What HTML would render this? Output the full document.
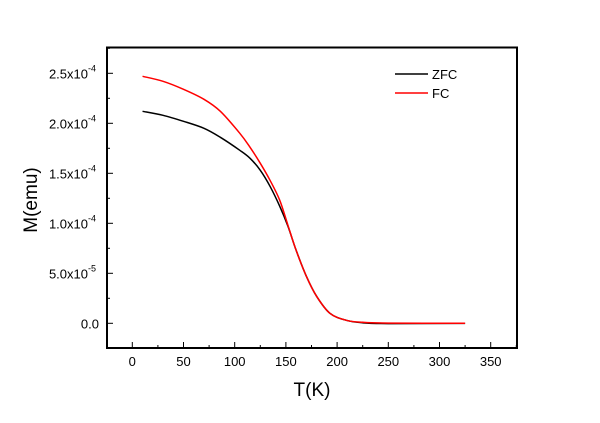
<!DOCTYPE html>
<html><head><meta charset="utf-8"><style>
body{margin:0;background:#fff;width:600px;height:418px;overflow:hidden}
text{font-family:"Liberation Sans",Arial,sans-serif}
</style></head><body>
<svg id="chart" width="600" height="418" viewBox="0 0 600 418" xmlns="http://www.w3.org/2000/svg">
<rect x="107" y="47.5" width="410" height="300.5" fill="none" stroke="#000" stroke-width="2"/>
<g id="ticks"></g>
<g id="series"></g>
<text x="312" y="396" font-size="19" text-anchor="middle">T(K)</text>
<text transform="translate(37,200) rotate(-90)" font-size="19" text-anchor="middle">M(emu)</text>
<g>
<line x1="395" y1="74" x2="428" y2="74" stroke="#000" stroke-width="1.5"/>
<text x="432" y="79" font-size="13">ZFC</text>
<line x1="395" y1="93" x2="428" y2="93" stroke="#f00" stroke-width="1.5"/>
<text x="432" y="98" font-size="13">FC</text>
</g>
</svg>
<script>
const xTicks=[0,50,100,150,200,250,300,350];
const yTicks=[0,0.5,1.0,1.5,2.0,2.5];
const yTickLabels=["0.0","5.0x10","1.0x10","1.5x10","2.0x10","2.5x10"];
const yTickExp=["","-5","-4","-4","-4","-4"];
const zfcT=[10,30,50,70,86,105,115,125,134.5,144,152,160,170,180,193,209,225,250,325];
const zfcM=[2.12,2.08,2.02,1.95,1.86,1.73,1.65,1.53,1.37,1.17,0.97,0.73,0.47,0.27,0.10,0.03,0.005,-0.003,-0.001];
const fcT=[10,30,50,70,86,105,115,125,134.5,144,152,160,170,180,193,209,225,250,325];
const fcM=[2.47,2.42,2.34,2.24,2.12,1.90,1.76,1.60,1.43,1.23,0.98,0.73,0.47,0.27,0.10,0.03,0.01,0.002,0];
const X=t=>132.3+(t)*(358.4/350);
const Y=m=>323.3-m*100;
const NS="http://www.w3.org/2000/svg";
const tg=document.getElementById('ticks');
function mk(tag,attrs,parent){const e=document.createElementNS(NS,tag);for(const k in attrs)e.setAttribute(k,attrs[k]);parent.appendChild(e);return e;}
xTicks.forEach((t,i)=>{
 const l=mk('line',{x1:X(t),x2:X(t),y1:348,y2:342,stroke:'#000','stroke-width':1},tg);
 
 
 const m=mk('line',{x1:X(t+25),x2:X(t+25),y1:348,y2:345,stroke:'#000','stroke-width':1},tg);
 
 
 const tx=mk('text',{x:X(t),y:366,'font-size':13,'text-anchor':'middle'},tg);
 tx.textContent=t;
 
 
});
yTicks.forEach((v,i)=>{
 const l=mk('line',{x1:107,x2:113,y1:Y(v),y2:Y(v),stroke:'#000','stroke-width':1},tg);
 
 
 const m=mk('line',{x1:107,x2:110,y1:Y(v+0.25),y2:Y(v+0.25),stroke:'#000','stroke-width':1},tg);
 
 
 const tx=mk('text',{x:yTickExp[i]?88:99,y:Y(v)+5,'font-size':13,'text-anchor':'end'},tg);
 tx.textContent=yTickLabels[i];
 
 
 if(yTickExp[i]){
  const s=mk('text',{x:88,y:Y(v)-2,'font-size':9,'text-anchor':'start'},tg);
  s.textContent=yTickExp[i];
  
  
 }
});
const sg=document.getElementById('series');
function line(T,M,color,name){
 let d='M'+X(T[0])+','+Y(M[0]);
 for(let i=0;i<T.length-1;i++){
  const p0=[X(T[Math.max(i-1,0)]),Y(M[Math.max(i-1,0)])],p1=[X(T[i]),Y(M[i])],p2=[X(T[i+1]),Y(M[i+1])],p3=[X(T[Math.min(i+2,T.length-1)]),Y(M[Math.min(i+2,T.length-1)])];
  const c1=[p1[0]+(p2[0]-p0[0])/6,p1[1]+(p2[1]-p0[1])/6],c2=[p2[0]-(p3[0]-p1[0])/6,p2[1]-(p3[1]-p1[1])/6];
  d+=' C'+c1.join(',')+' '+c2.join(',')+' '+p2.join(',');
 }
 const p=mk('path',{d:d,fill:'none',stroke:color,'stroke-width':1.5},sg);
 
 
}
line(zfcT,zfcM,'#000','zfc-line');
line(fcT,fcM,'#f00','fc-line');
</script>
</body></html>
